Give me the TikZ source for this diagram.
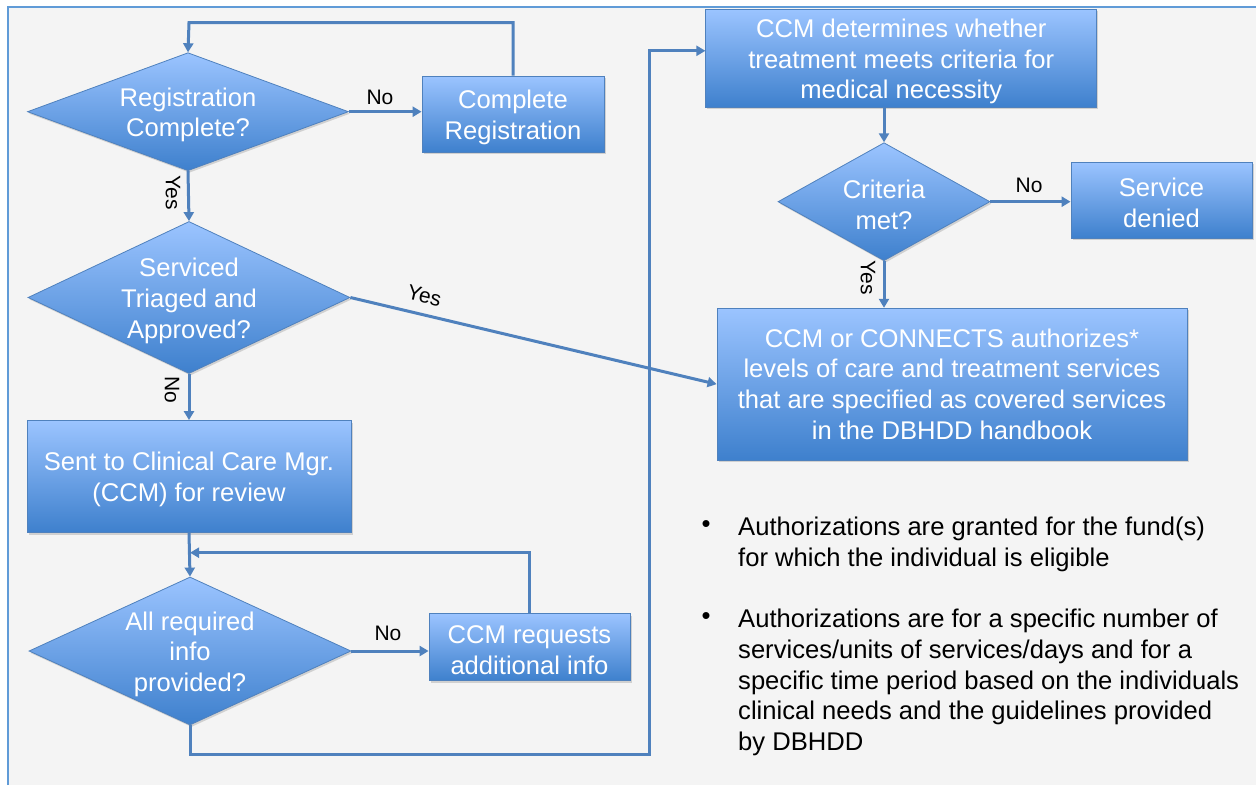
\documentclass[tikz,border=0pt]{standalone}
\usepackage{fontspec}
\setmainfont{Liberation Sans}
\usetikzlibrary{shapes.geometric,shadows,arrows.meta}
\definecolor{bgc}{RGB}{244,244,244}
\definecolor{framec}{RGB}{96,155,215}
\definecolor{linec}{RGB}{79,129,189}
\definecolor{topc}{RGB}{155,196,255}
\definecolor{botc}{RGB}{62,128,205}
\definecolor{edgec}{RGB}{79,129,189}
\newcommand{\upstrut}{\rule{0pt}{25pt}}
\begin{document}
\begin{tikzpicture}[x=1pt,y=-1pt,
  font=\fontsize{25.6}{30.8}\selectfont,
  box/.style={draw=edgec, line width=0.8pt, top color=topc, bottom color=botc,
    text=white, align=center, inner sep=0pt,
    drop shadow={shadow xshift=1.5pt, shadow yshift=-2pt, opacity=0.3}},
  dia/.style={diamond, box, inner sep=-8pt},
  arr/.style={draw=linec, line width=3pt, -{Triangle[length=9pt,width=10pt]}},
  lbl/.style={font=\fontsize{21}{24}\selectfont, text=black, inner sep=0pt},
  btxt/.style={align=left, text=black, inner sep=0pt, anchor=west}
]
\useasboundingbox (0,0) rectangle (1256,785);
\fill[white] (0,0) rectangle (1256,785);
\fill[bgc] (8,7) rectangle (1256,785);
\draw[framec, line width=2pt] (8,785) -- (8,7) -- (1256,7);

% nodes
\node[box, minimum width=182pt, minimum height=76pt] (compreg) at (513,114) {\upstrut Complete\\Registration};
\node[dia, minimum width=321pt, minimum height=118pt, shape aspect=2.72] (d1) at (188,111.7) {\upstrut Registration\\Complete?};
\node[dia, minimum width=322pt, minimum height=152pt, shape aspect=2.12] (d2) at (189,297.5) {\upstrut Serviced\\Triaged and\\Approved?};
\node[box, minimum width=324pt, minimum height=112pt] (sent) at (189,476.5) {\upstrut Sent to Clinical Care Mgr.\\(CCM) for review};
\node[dia, minimum width=322pt, minimum height=148pt, shape aspect=2.18] (d3) at (190,651) {\upstrut All required\\info\\provided?};
\node[box, minimum width=201pt, minimum height=67pt] (ccmreq) at (529.5,647) {\upstrut CCM requests\\additional info};
\node[box, minimum width=391pt, minimum height=98pt] (ccmdet) at (901.3,58.3) {\upstrut CCM determines whether\\treatment meets criteria for\\medical necessity};
\node[dia, minimum width=212pt, minimum height=118pt, shape aspect=1.8] (crit) at (884,201.7) {\upstrut Criteria\\met?};
\node[box, minimum width=181pt, minimum height=76pt] (denied) at (1161.5,200) {\upstrut Service\\denied};
\node[box, minimum width=470pt, minimum height=152pt] (auth) at (952,384.2) {CCM or CONNECTS authorizes*\\levels of care and treatment services\\that are specified as covered services\\in the DBHDD handbook};

% connectors
\coordinate (t1) at (189,22.7);
\draw[arr] (compreg.north) |- (t1) -- (d1.north);
\draw[arr] (d1.east) -- (d1.east -| compreg.west);
\node[lbl] (no1) at (380,97) {No};
\draw[arr] (d1.south) -- (d2.north);
\node[lbl, rotate=-90] (yes1) at (173,193) {Yes};
\draw[arr] (d2.east) -- node[lbl, sloped, above=10pt, pos=0.19] (yes2) {Yes} (auth.west);
\draw[arr] (d2.south) -- (sent.north);
\node[lbl, rotate=-90] (no2) at (172,390) {No};
\draw[arr] (sent.south) -- (d3.north);
\coordinate (j2) at (190,552.7);
\draw[arr] (ccmreq.north) |- (j2);
\draw[arr] (d3.east) -- (d3.east -| ccmreq.west);
\node[lbl] (no3) at (388,633) {No};
\coordinate (c1) at (649,754);
\draw[arr] (d3.south) |- (c1) |- ([yshift=7.5pt]ccmdet.west);
\draw[arr] (crit.north |- ccmdet.south) -- (crit.north);
\draw[arr] (crit.east) -- (crit.east -| denied.west);
\node[lbl] (no4) at (1029,185) {No};
\draw[arr] (crit.south) -- (crit.south |- auth.north);
\node[lbl, rotate=-90] (yes3) at (868,278) {Yes};

% bullets
\node[text=black, inner sep=0pt] (bul1) at (706,527) {•};
\node[btxt] (txt1) at (738,544) {Authorizations are granted for the fund(s)\\for which the individual is eligible};
\node[text=black, inner sep=0pt] (bul2) at (706,618.5) {•};
\node[btxt] (txt2) at (738,682.5) {Authorizations are for a specific number of\\services/units of services/days and for a\\specific time period based on the individuals\\clinical needs and the guidelines provided\\by DBHDD};
\end{tikzpicture}
\end{document}
